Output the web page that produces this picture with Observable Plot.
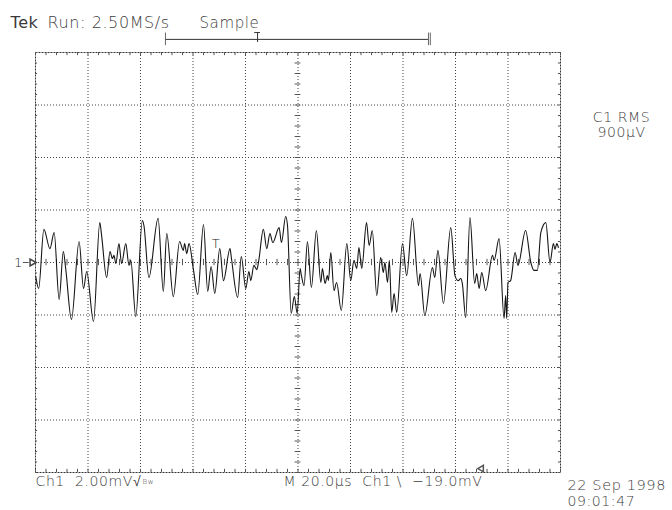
<!DOCTYPE html>
<html><head><meta charset="utf-8">
<script src="https://cdn.jsdelivr.net/npm/d3@7"></script>
<script src="https://cdn.jsdelivr.net/npm/@observablehq/plot@0.6"></script>
<style>body{margin:0;background:#fff}</style>
</head><body><div id="chart"></div>
<script>
// Time (µs, screen spans 10 div x 20 µs) and Ch1 voltage (mV, 2 mV/div)
const timeUs = [0.1,1.2,3.2,5.5,7.1,9.0,10.6,11.5,13.7,16.6,18.3,19.5,22.1,24.5,25.1,27.1,28.4,29.3,29.9,30.6,31.8,32.8,34.4,35.6,36.3,38.2,40.7,41.3,43.2,46.7,48.7,50.0,52.5,54.9,56.3,56.8,57.6,58.5,60.2,61.8,64.0,65.6,66.9,68.3,70.2,71.6,74.1,74.6,77.0,78.4,80.1,81.3,82.0,83.2,84.3,85.0,86.8,88.1,89.3,90.4,92.8,93.7,95.3,96.0,97.4,98.6,99.7,100.8,101.3,102.3,103.6,105.1,107.0,108.7,109.3,110.3,111.2,111.6,112.5,113.7,114.7,116.5,118.6,120.1,121.3,122.4,123.2,124.3,126.1,127.1,128.3,130.0,131.5,132.5,133.1,134.1,134.8,135.7,136.6,137.6,139.8,141.4,143.6,145.9,146.5,148.3,151.2,152.1,153.3,155.4,158.2,159.8,161.0,162.0,162.6,163.9,165.5,167.3,168.1,169.0,170.0,171.5,174.1,174.7,176.6,178.5,179.1,179.5,180.0,181.0,182.7,183.8,186.7,188.7,189.9,191.2,192.5,194.4,196.0,197.3,197.9,198.6,199.2];
const voltageMv = [-0.53,-0.99,1.26,0.53,1.14,-1.41,0.42,-0.23,-2.17,0.80,-0.99,-0.34,-2.25,1.52,1.10,-0.57,0.42,0.15,0.27,-0.04,0.72,-0.04,0.72,-0.11,0.08,-2.06,1.60,1.41,-0.57,1.68,-1.10,1.10,-1.30,0.80,0.46,0.72,0.34,0.72,-0.30,-1.22,1.45,-1.10,-0.15,-1.18,0.53,-0.69,0.53,0.19,-1.33,0.23,-0.99,-0.34,-0.69,-0.11,-0.27,0.04,1.26,0.53,1.10,0.76,1.33,0.76,1.75,1.41,-1.94,-1.30,-1.94,-0.23,-0.50,-0.88,0.80,-0.95,1.22,-0.76,-0.23,-0.80,-0.50,-0.69,0.38,-1.07,-0.76,-1.83,0.72,-0.69,0.08,-0.23,0.57,-0.23,1.52,0.65,1.22,-1.26,0.19,-0.38,0.00,-0.76,0.08,-1.90,-1.18,-1.90,0.72,-0.50,1.68,-0.88,-0.42,-2.02,-0.19,-0.57,0.46,-1.56,1.33,-0.50,-0.69,-0.61,-0.80,-2.10,1.71,-0.80,-0.42,-0.99,-0.38,-1.07,0.27,0.08,0.91,-2.13,-1.26,-2.13,-0.76,-0.69,0.38,-0.11,1.22,0.00,-0.30,-0.30,1.14,1.52,0.00,0.72,0.50,0.72,0.57];

const xDivTicks = [0,20,40,60,80,100,120,140,160,180,200];
const yDivTicks = [-8,-6,-4,-2,0,2,4,6,8];
const xMinor = d3.range(0, 200.01, 4);
const yMinor = d3.range(-8, 8.01, 0.4);

const topLabels = ["Tek", "Run: 2.50MS/s", "Sample"];
const rmsLabels = ["C1 RMS", "900\u00B5V"];
const bottomLeftLabel = "Ch1  2.00mV\u221A";
const bottomMidLabel = "M 20.0\u00B5s  Ch1 \\  \u221219.0mV";
const dateLabels = ["22 Sep 1998", "09:01:47"];

const wave = timeUs.map((t, i) => ({t, v: voltageMv[i]}));
const txt = "#3c3c3c";

const plot = Plot.plot({
  width: 672, height: 510,
  marginLeft: 35, marginRight: 112, marginTop: 52, marginBottom: 38,
  x: {domain: [0, 200], axis: null},
  y: {domain: [-8, 8], axis: null},
  style: {fontFamily: "'DejaVu Sans', sans-serif", fontWeight: 200, letterSpacing: "0.6px", background: "#fff", overflow: "visible"},
  marks: [
    Plot.ruleX(xDivTicks.slice(1, -1), {stroke: "#444", strokeDasharray: "1,2"}),
    Plot.ruleY(yDivTicks.slice(1, -1), {stroke: "#444", strokeDasharray: "1,2"}),
    Plot.frame({stroke: "#333", strokeDasharray: "2,1"}),
    Plot.ruleX(xMinor, {y1: -0.12, y2: 0.12, stroke: "#555"}),
    Plot.ruleY(yMinor, {x1: 98.9, x2: 101.1, stroke: "#555"}),
    Plot.ruleY(yMinor, {x1: 0, x2: 0.8, stroke: "#555"}),
    Plot.ruleY(yMinor, {x1: 199.2, x2: 200, stroke: "#555"}),
    Plot.ruleX(xMinor, {y1: -8, y2: -7.88, stroke: "#555"}),
    Plot.ruleX(xMinor, {y1: 7.88, y2: 8, stroke: "#555"}),
    Plot.line(wave, {x: "t", y: "v", stroke: "#151515", strokeWidth: 1.1, curve: "monotone-x"}),
    // trigger marker inside
    Plot.text(["T"], {x: [68.8], y: [0.72], fontSize: 13, fill: "#222", lineAnchor: "middle"}),
    // channel 1 ground marker
    Plot.text(["1"], {frameAnchor: "left", dx: -17, fontSize: 13, fill: "#222", textAnchor: "middle", lineAnchor: "middle"}),
    Plot.ruleY([0], {x1: -4.6, x2: -2.4, stroke: "#555"}),
    Plot.dot([0], {x: () => -1.3, y: d => d, symbol: "triangle", rotate: 90, r: 2.6, fill: "white", stroke: "#444"}),
    // header
    Plot.text([topLabels[0]], {frameAnchor: "top-left", dx: -25, dy: -25, textAnchor: "start", lineAnchor: "bottom", fontSize: 16, fontWeight: 400, fill: "#3a3a3a"}),
    Plot.text([topLabels[1]], {frameAnchor: "top-left", dx: 12, dy: -25, textAnchor: "start", lineAnchor: "bottom", fontSize: 16, fill: txt}),
    Plot.text([topLabels[2]], {frameAnchor: "top-left", dx: 164, dy: -25, textAnchor: "start", lineAnchor: "bottom", fontSize: 15, fill: txt}),
    // record bracket with trigger "T" marker
    Plot.ruleY([8.5], {x1: 49.5, x2: 149.7, stroke: "#333"}),
    Plot.ruleX([49.5], {y1: 8.26, y2: 8.74, stroke: "#666"}),
    Plot.ruleX([149.7, 150.4], {y1: 8.26, y2: 8.74, stroke: "#666"}),
    Plot.ruleY([8.76], {x1: 83.5, x2: 85.7, stroke: "#333"}),
    Plot.ruleX([84.6], {y1: 8.38, y2: 8.76, stroke: "#333"}),
    // right readouts
    Plot.text([rmsLabels[0]], {frameAnchor: "top-right", dx: 61, dy: 69, textAnchor: "middle", lineAnchor: "bottom", fontSize: 14, fill: txt}),
    Plot.text([rmsLabels[1]], {frameAnchor: "top-right", dx: 61, dy: 84, textAnchor: "middle", lineAnchor: "bottom", fontSize: 14, fill: txt}),
    // bottom readouts
    Plot.text([bottomLeftLabel], {frameAnchor: "bottom-left", dx: 0, dy: 13, textAnchor: "start", lineAnchor: "bottom", fontSize: 14, fill: txt}),
    Plot.text(["Bw"], {frameAnchor: "bottom-left", dx: 107, dy: 11, textAnchor: "start", lineAnchor: "bottom", fontSize: 7, fill: txt}),
    Plot.text([bottomMidLabel], {frameAnchor: "bottom-left", dx: 447, dy: 13, textAnchor: "end", lineAnchor: "bottom", fontSize: 14, fill: txt}),
    Plot.dot([-7.85], {x: () => 169.9, y: d => d, symbol: "triangle", rotate: -90, r: 2.4, fill: "white", stroke: "#555"}),
    Plot.text([dateLabels[0]], {frameAnchor: "bottom-right", dx: 7, dy: 17, textAnchor: "start", lineAnchor: "bottom", fontSize: 14.5, fill: txt}),
    Plot.text([dateLabels[1]], {frameAnchor: "bottom-right", dx: 7, dy: 33, textAnchor: "start", lineAnchor: "bottom", fontSize: 14, fill: txt})
  ]
});
document.getElementById("chart").appendChild(plot);
</script>
</body></html>
